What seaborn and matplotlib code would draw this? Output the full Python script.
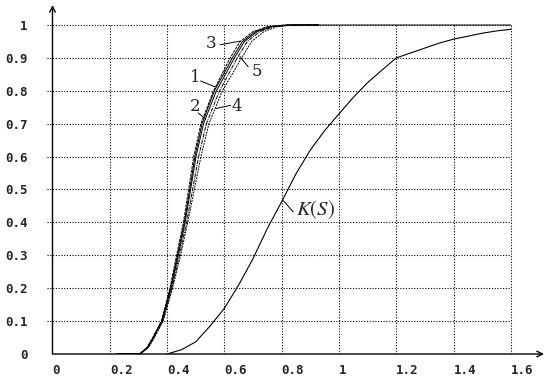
import matplotlib
matplotlib.use("Agg")
import matplotlib.pyplot as plt
import numpy as np
import pandas as pd
import seaborn as sns

# distribution curves 1..5, read at common K levels
levels = [0, 0, 0.02, 0.05, 0.1, 0.2, 0.3, 0.4, 0.5, 0.6, 0.7, 0.8, 0.9, 0.95, 0.98, 0.995, 1.0, 1.0]
s1 = [0.225, 0.304, 0.331, 0.351, 0.381, 0.412, 0.436, 0.460, 0.479, 0.497, 0.522, 0.565, 0.628, 0.663, 0.708, 0.757, 0.82, 0.93]
s2 = [0.225, 0.305, 0.332, 0.352, 0.383, 0.414, 0.439, 0.463, 0.482, 0.501, 0.527, 0.572, 0.635, 0.670, 0.715, 0.765, 0.83, 1.60]
s3 = [0.225, 0.303, 0.330, 0.350, 0.380, 0.410, 0.433, 0.457, 0.475, 0.493, 0.518, 0.562, 0.620, 0.655, 0.700, 0.750, 0.81, 0.93]
s4 = [0.225, 0.306, 0.334, 0.354, 0.385, 0.417, 0.443, 0.468, 0.489, 0.510, 0.537, 0.583, 0.645, 0.680, 0.724, 0.772, 0.83, 0.93]
s5 = [0.225, 0.307, 0.335, 0.356, 0.386, 0.419, 0.447, 0.472, 0.495, 0.518, 0.546, 0.593, 0.660, 0.695, 0.738, 0.785, 0.84, 0.93]

# K(S)
ks_s = [0.40, 0.45, 0.50, 0.55, 0.60, 0.65, 0.70, 0.75, 0.80, 0.85, 0.90, 0.95, 1.00,
        1.05, 1.10, 1.15, 1.20, 1.25, 1.30, 1.35, 1.40, 1.45, 1.50, 1.55, 1.60]
ks_k = [0.00, 0.013, 0.037, 0.085, 0.139, 0.21, 0.29, 0.382, 0.463, 0.548, 0.62, 0.679, 0.73,
        0.78, 0.825, 0.863, 0.90, 0.915, 0.93, 0.945, 0.957, 0.966, 0.975, 0.982, 0.987]

xticks = [0, 0.2, 0.4, 0.6, 0.8, 1.0, 1.2, 1.4, 1.6]
xtick_labels = ["0", "0.2", "0.4", "0.6", "0.8", "1", "1.2", "1.4", "1.6"]
yticks = [0, 0.1, 0.2, 0.3, 0.4, 0.5, 0.6, 0.7, 0.8, 0.9, 1.0]
ytick_labels = ["0", "0.1", "0.2", "0.3", "0.4", "0.5", "0.6", "0.7", "0.8", "0.9", "1"]

# label text position, leader start, leader end
curve_labels = [
    ("1", (0.497, 0.839), (0.517, 0.830), (0.567, 0.812)),
    ("2", (0.497, 0.751), (0.508, 0.733), (0.532, 0.716)),
    ("3", (0.552, 0.945), (0.585, 0.940), (0.655, 0.951)),
    ("4", (0.643, 0.752), (0.622, 0.756), (0.570, 0.746)),
    ("5", (0.713, 0.858), (0.683, 0.873), (0.654, 0.904)),
]

sns.set_style("white")
plt.rcParams["mathtext.fontset"] = "stix"
plt.rcParams["font.family"] = ["DejaVu Serif"]

fig = plt.figure(figsize=(5.48, 3.82), dpi=100)
W, H = 548, 382
ax = fig.add_axes([52.5 / W, (H - 354) / H, (544 - 52.5) / W, (354 - 5) / H])
ax.set_xlim(0, (544 - 52.5) / 286.5)
ax.set_ylim(0, (354 - 5) / 329)

grid_kw = dict(color="black", lw=0.8, linestyle=(0, (1, 1.5)), zorder=1)
for x in xticks[1:]:
    ax.plot([x, x], [0, 1], **grid_kw)
for y in yticks[1:]:
    ax.plot([-0.02, 1.6], [y, y], clip_on=False, **grid_kw)

styles = ["-", "-", (0, (3, 1)), (0, (4, 1, 1, 1)), (0, (2, 1))]
for name, xs, ls in zip(["1", "2", "3", "4", "5"], [s1, s2, s3, s4, s5], styles):
    df = pd.DataFrame({"S": xs, "K": levels})
    sns.lineplot(data=df, x="S", y="K", sort=False, estimator=None, color="black",
                 lw=0.7, linestyle=ls, ax=ax, zorder=3)

df_k = pd.DataFrame({"S": ks_s, "K": ks_k})
sns.lineplot(data=df_k, x="S", y="K", sort=False, estimator=None, color="black",
             lw=0.8, ax=ax, zorder=3)

for txt, pos, p0, p1 in curve_labels:
    ax.text(pos[0], pos[1], txt, ha="center", va="center", fontsize=12,
            family="DejaVu Serif", zorder=5)
    ax.plot([p0[0], p1[0]], [p0[1], p1[1]], color="black", lw=0.7, zorder=4)

ax.text(0.92, 0.44, "$K(S)$", ha="center", va="center", fontsize=15, zorder=5)
ax.plot([0.84, 0.806], [0.432, 0.466], color="black", lw=0.7, zorder=4)

for sp in ax.spines.values():
    sp.set_visible(False)
ax.annotate("", xy=(1, 0), xytext=(0, 0), xycoords="axes fraction",
            arrowprops=dict(arrowstyle="->", lw=1.0, color="black", shrinkA=0, shrinkB=0))
ax.annotate("", xy=(0, 1), xytext=(0, 0), xycoords="axes fraction",
            arrowprops=dict(arrowstyle="->", lw=1.0, color="black", shrinkA=0, shrinkB=0))

ax.set_xticks(xticks)
ax.set_xticklabels(xtick_labels, ha="left", family="DejaVu Sans Mono",
                   fontweight="bold", fontsize=9)
ax.set_yticks(yticks)
ax.set_yticklabels(ytick_labels, family="DejaVu Sans Mono",
                   fontweight="bold", fontsize=9)
ax.tick_params(axis="x", length=0, pad=7)
ax.tick_params(axis="y", length=0, pad=18)
ax.set_xlabel("")
ax.set_ylabel("")

fig.savefig("out.png", dpi=100)
